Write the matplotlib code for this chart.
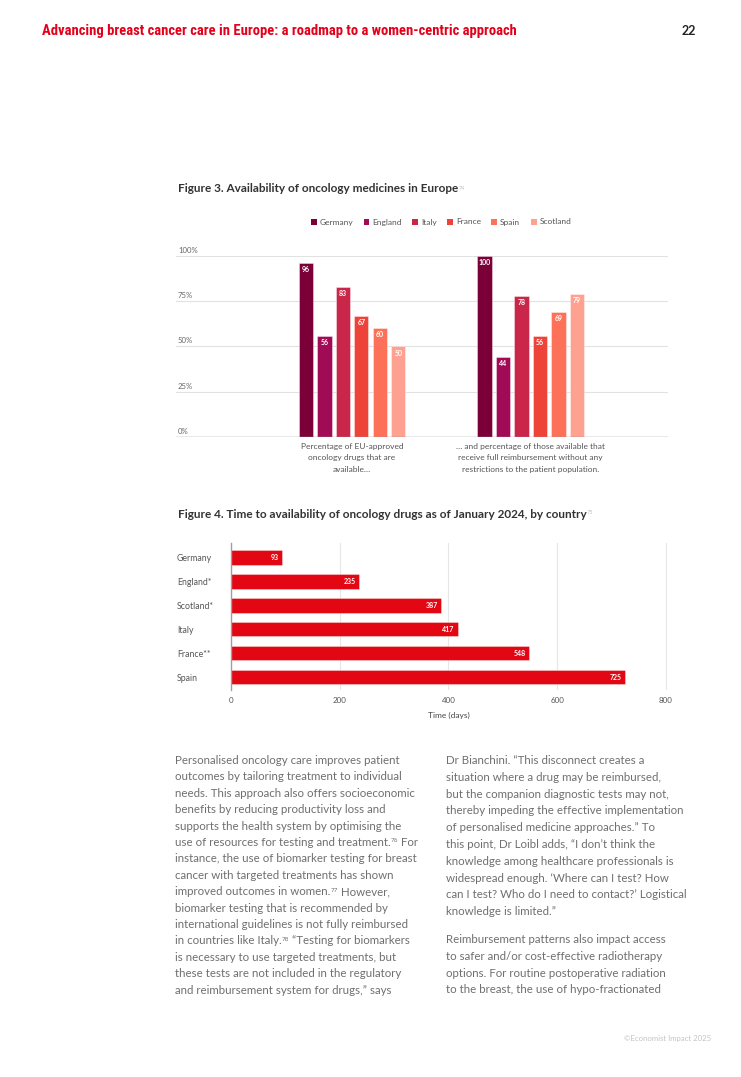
import matplotlib
matplotlib.use("Agg")
import matplotlib.pyplot as plt
from matplotlib.patches import Patch
from matplotlib.transforms import blended_transform_factory
import numpy as np

plt.rcParams['font.family'] = ['Lato', 'DejaVu Sans']

# ---- data ----
countries = ['Germany', 'England', 'Italy', 'France', 'Spain', 'Scotland']
available = [96, 56, 83, 67, 60, 50]
reimbursed = [100, 44, 78, 56, 69, 79]
group_labels = ['Percentage of EU-approved\noncology drugs that are\navailable…',
                '… and percentage of those available that\nreceive full reimbursement without any\nrestrictions to the patient population.']
pct_ticks = [0, 25, 50, 75, 100]
colors = ['#7b0038', '#a10a55', '#c9264a', '#ee4339', '#fd7159', '#ffa191']

countries2 = ['Germany', 'England*', 'Scotland*', 'Italy', 'France**', 'Spain']
days = [93, 235, 387, 417, 548, 725]
day_ticks = [0, 200, 400, 600, 800]

header = 'Advancing breast cancer care in Europe: a roadmap to a women-centric approach'
page_no = '22'
fig3_title = 'Figure 3. Availability of oncology medicines in Europe'
fig4_title = 'Figure 4. Time to availability of oncology drugs as of January 2024, by country'

left_col = [
    [('Personalised oncology care improves patient', False)],
    [('outcomes by tailoring treatment to individual', False)],
    [('needs. This approach also offers socioeconomic', False)],
    [('benefits by reducing productivity loss and', False)],
    [('supports the health system by optimising the', False)],
    [('use of resources for testing and treatment.', False), ('76', True), (' For', False)],
    [('instance, the use of biomarker testing for breast', False)],
    [('cancer with targeted treatments has shown', False)],
    [('improved outcomes in women.', False), ('77', True), (' However,', False)],
    [('biomarker testing that is recommended by', False)],
    [('international guidelines is not fully reimbursed', False)],
    [('in countries like Italy.', False), ('78', True), (' \u201cTesting for biomarkers', False)],
    [('is necessary to use targeted treatments, but', False)],
    [('these tests are not included in the regulatory', False)],
    [('and reimbursement system for drugs,\u201d says', False)],
]
right_col_a = [
    'Dr Bianchini. \u201cThis disconnect creates a',
    'situation where a drug may be reimbursed,',
    'but the companion diagnostic tests may not,',
    'thereby impeding the effective implementation',
    'of personalised medicine approaches.\u201d To',
    'this point, Dr Loibl adds, \u201cI don\u2019t think the',
    'knowledge among healthcare professionals is',
    'widespread enough. \u2018Where can I test? How',
    'can I test? Who do I need to contact?\u2019 Logistical',
    'knowledge is limited.\u201d',
]
right_col_b = [
    'Reimbursement patterns also impact access',
    'to safer and/or cost-effective radiotherapy',
    'options. For routine postoperative radiation',
    'to the breast, the use of hypo-fractionated',
]

W, H = 741, 1077
fig = plt.figure(figsize=(W / 100, H / 100), dpi=100)
fig.patch.set_facecolor('white')

def fx(px):
    return px / W

def fy(py):
    return 1 - py / H

# ---- header ----
fig.text(fx(42), fy(31), header, color='#e3001b', fontsize=10.5, fontweight='bold',
         family=['Roboto Condensed', 'Roboto', 'DejaVu Sans'], va='center', ha='left')
fig.text(fx(696), fy(31), page_no, color='#222222', fontsize=9, fontweight='bold',
         va='center', ha='right')

# ---- figure 3 ----
t3 = fig.text(fx(178), fy(189), fig3_title, color='#333333', fontsize=8.5,
              fontweight='bold', va='center', ha='left')

ax1 = fig.add_axes([fx(176), fy(437), fx(668) - fx(176), fy(256) - fy(437)])
pitch = 0.1036
bw = 0.081
for i, (c, col) in enumerate(zip(countries, colors)):
    xs = np.array([0, 1]) + (i - 2.5) * pitch
    vals = [available[i], reimbursed[i]]
    ax1.bar(xs, vals, width=bw, color=col, edgecolor=(1, 1, 1, 0.45), linewidth=0.6,
            label=c, zorder=3)
    for x, v in zip(xs, vals):
        ax1.annotate(str(v), xy=(x, v), xytext=(0, -2.2), textcoords='offset points',
                     ha='center', va='top', color='white', fontsize=5,
                     fontweight='bold', zorder=4)

ax1.set_xlim(-0.986, 1.770)
ax1.set_ylim(0, 100)
ax1.set_yticks(pct_ticks)
ax1.set_yticklabels([])
ax1.tick_params(axis='y', length=0)
ax1.grid(axis='y', color='#e2e2e2', linewidth=0.8, zorder=0)
ax1.axhline(0, color='#9a9a9a', linewidth=1.0, zorder=5)
for s in ax1.spines.values():
    s.set_visible(False)
tr = blended_transform_factory(ax1.transAxes, ax1.transData)
for v in pct_ticks:
    ax1.text(0.004, v + 1.2, f'{v}%', transform=tr, ha='left', va='bottom',
             fontsize=5.6, color='#666666')
ax1.set_xticks([0, 1])
ax1.set_xticklabels(group_labels, fontsize=6, color='#555555', linespacing=1.75)
ax1.tick_params(axis='x', length=0, pad=4)

handles = [Patch(facecolor=c, edgecolor='none') for c in colors]
fig.legend(handles, countries, loc='center', bbox_to_anchor=(fx(441), fy(222)),
           ncol=6, frameon=False, fontsize=6, handlelength=0.7, handleheight=0.7,
           handletextpad=0.35, columnspacing=1.25, labelcolor='#555555')

# ---- figure 4 ----
t4 = fig.text(fx(178), fy(514), fig4_title, color='#333333', fontsize=8.5,
              fontweight='bold', va='center', ha='left')

ax2 = fig.add_axes([fx(231), fy(690), fx(667) - fx(231), fy(543) - fy(690)])
ypos = np.arange(len(countries2))
ax2.barh(ypos, days, height=0.6, color='#e30613', edgecolor=(1, 1, 1, 0.4),
         linewidth=0.6, zorder=3)
for y, v in zip(ypos, days):
    ax2.annotate(str(v), xy=(v, y), xytext=(-2.2, 0), textcoords='offset points',
                 ha='right', va='center', color='white', fontsize=5,
                 fontweight='bold', zorder=4)
ax2.set_xlim(0, 802)
ax2.set_ylim(len(countries2) - 1 + 0.54, -0.61)
ax2.set_xticks(day_ticks)
ax2.set_xticklabels([str(d) for d in day_ticks], fontsize=5.8, color='#555555')
ax2.set_yticks(ypos)
ax2.set_yticklabels(countries2, fontsize=6.3, color='#555555')
ax2.tick_params(axis='y', length=0, pad=39)
for lab in ax2.get_yticklabels():
    lab.set_ha('left')
ax2.tick_params(axis='x', length=0, pad=5)
ax2.grid(axis='x', color='#e6e6e6', linewidth=0.8, zorder=0)
for k, s in ax2.spines.items():
    s.set_visible(k == 'left')
ax2.spines['left'].set_color('#a0a0a0')
ax2.spines['left'].set_linewidth(1.0)
ax2.spines['left'].set_zorder(5)
ax2.set_xlabel('Time (days)', fontsize=6, color='#444444', labelpad=6)

# superscripts after titles
renderer = fig.canvas.get_renderer()
for t, s in [(t3, '74'), (t4, '75')]:
    bb = t.get_window_extent(renderer)
    fig.text(bb.x1 / W, (bb.y1 - 2) / H, s, color='#c0c0c0', fontsize=4,
             va='top', ha='left')

# ---- body text ----
body_fs = 8.3
body_col = '#6f6f6f'

def draw_line(x_px, y_px, parts):
    x = fx(x_px)
    for txt, sup in parts:
        if sup:
            t = fig.text(x, fy(y_px) + 3.5 / H, txt, fontsize=body_fs * 0.55,
                         color=body_col, va='baseline', ha='left')
        else:
            t = fig.text(x, fy(y_px), txt, fontsize=body_fs, color=body_col,
                         va='baseline', ha='left')
        x += t.get_window_extent(renderer).width / W

lp = 16.4
for i, parts in enumerate(left_col):
    draw_line(175, 764 + i * lp, parts)

rp = 16.8
for i, line in enumerate(right_col_a):
    draw_line(446, 764 + i * rp, [(line, False)])
yb = 764 + 9 * rp + 27.7
for i, line in enumerate(right_col_b):
    draw_line(446, yb + i * rp, [(line, False)])

fig.text(fx(711), fy(1039), '\u00a9Economist Impact 2025', fontsize=5.6,
         color='#c4c4c4', ha='right', va='center')

fig.savefig('out.png', dpi=100)
